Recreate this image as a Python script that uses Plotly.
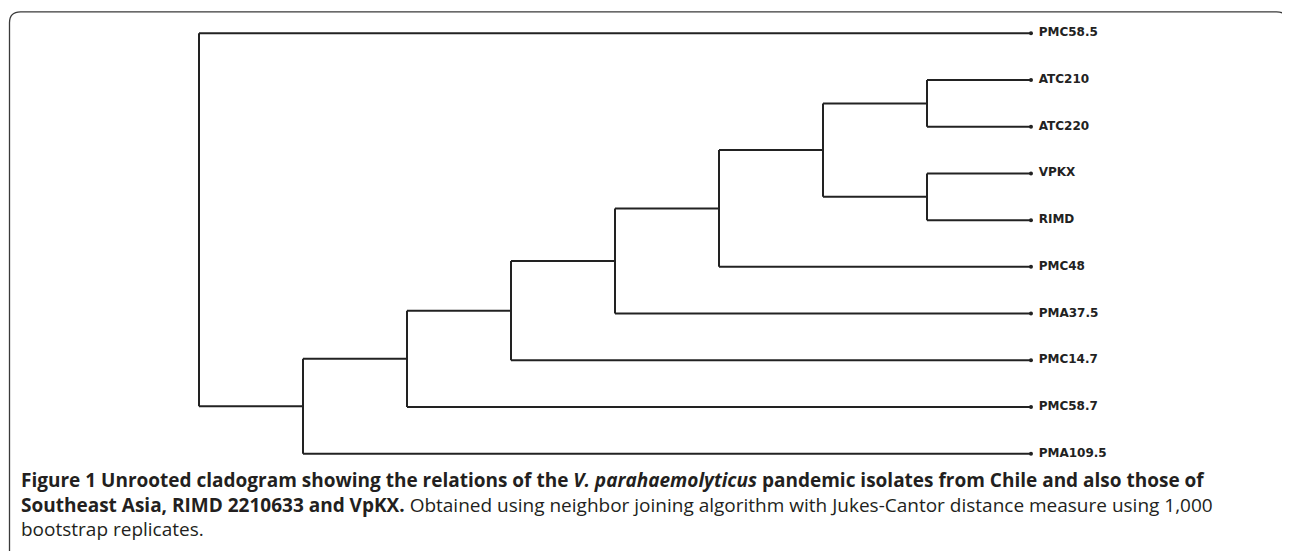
import plotly.graph_objects as go

# ---- data: tree topology ----
leaves = ["PMC58.5", "ATC210", "ATC220", "VPKX", "RIMD",
          "PMC48", "PMA37.5", "PMC14.7", "PMC58.7", "PMA109.5"]
internal_nodes = ["root", "N1", "N2", "N3", "N4", "N5", "N6", "N7a", "N7b"]
node_children = [
    ["PMC58.5", "N1"],
    ["N2", "PMA109.5"],
    ["N3", "PMC58.7"],
    ["N4", "PMC14.7"],
    ["N5", "PMA37.5"],
    ["N6", "PMC48"],
    ["N7a", "N7b"],
    ["ATC210", "ATC220"],
    ["VPKX", "RIMD"],
]

caption_lines = [
    "<b>Figure 1 Unrooted cladogram showing the relations of the "
    "<i>V. parahaemolyticus</i> pandemic isolates from Chile and also those of</b>",
    "<b>Southeast Asia, RIMD 2210633 and VpKX.</b> Obtained using neighbor joining "
    "algorithm with Jukes-Cantor distance measure using 1,000",
    "bootstrap replicates.",
]

# ---- cladogram layout ----
children = dict(zip(internal_nodes, node_children))
depth = {}
def set_depth(n, d):
    depth[n] = d
    for c in children.get(n, []):
        set_depth(c, d + 1)
set_depth("root", 0)
max_depth = max(depth[l] for l in leaves)
xpos = {n: (max_depth if n in leaves else depth[n]) for n in depth}
ypos = {l: i for i, l in enumerate(leaves)}
def set_y(n):
    if n in ypos:
        return ypos[n]
    ys = [set_y(c) for c in children[n]]
    ypos[n] = sum(ys) / len(ys)
    return ypos[n]
set_y("root")

lx, ly = [], []
for n in internal_nodes:
    cs = children[n]
    cy = [ypos[c] for c in cs]
    lx += [xpos[n], xpos[n], None]
    ly += [min(cy), max(cy), None]
    for c in cs:
        lx += [xpos[n], xpos[c], None]
        ly += [ypos[c], ypos[c], None]

LINE = "#222222"
fig = go.Figure()
fig.add_trace(go.Scatter(x=lx, y=ly, mode="lines",
                         line=dict(color=LINE, width=2),
                         hoverinfo="skip", showlegend=False, cliponaxis=False))
fig.add_trace(go.Scatter(x=[xpos[l] for l in leaves], y=[ypos[l] for l in leaves],
                         mode="markers+text", text=[" " + s for s in leaves],
                         textposition="middle right",
                         marker=dict(color=LINE, size=4),
                         textfont=dict(family="DejaVu Sans", size=12, color=LINE, weight="bold"),
                         hoverinfo="skip", showlegend=False, cliponaxis=False))

# ---- geometry (page body has an 8px margin) ----
OFF = 8
W, H = 1290, 551
x0px, x1px = 199 - OFF, 1031 - OFF
y0px, y1px = 33 - OFF, 454 - OFF
nx = max_depth
ny = len(leaves) - 1
sx = (x1px - x0px) / nx
sy = (y1px - y0px) / ny
xr = [-0.5, nx + 0.5]
yr = [ny + 0.5, -0.5]
l = x0px - 0.5 * sx
r = W - (x1px + 0.5 * sx)
t = y0px - 0.5 * sy
b = H - (y1px + 0.5 * sy)
pw = W - l - r
ph = H - t - b

def px(xp):
    return (xp - OFF - l) / pw
def py(yp):
    return 1 - (yp - OFF - t) / ph

# rounded frame (window pixel coordinates)
bl, bt, br, bb, rad = 9.5, 11.5, 1287.5, 600, 11
path = (f"M {px(bl)},{py(bb)} L {px(bl)},{py(bt+rad)} "
        f"Q {px(bl)},{py(bt)} {px(bl+rad)},{py(bt)} "
        f"L {px(br-rad)},{py(bt)} Q {px(br)},{py(bt)} {px(br)},{py(bt+rad)} "
        f"L {px(br)},{py(bb)}")
fig.add_shape(type="path", path=path, xref="paper", yref="paper",
              line=dict(color="#3a3a3a", width=1.3), layer="above")

CAP = "#231f20"
cap_font = dict(family="Open Sans", size=19, color=CAP)
fig.add_annotation(text="<br>".join(caption_lines), x=px(19), y=py(505),
                   xref="paper", yref="paper",
                   xanchor="left", yanchor="middle", showarrow=False,
                   font=cap_font, align="left")

fig.update_layout(
    width=W, height=H,
    margin=dict(l=l, r=r, t=t, b=b, pad=0),
    paper_bgcolor="white", plot_bgcolor="white",
    xaxis=dict(range=xr, visible=False, fixedrange=True),
    yaxis=dict(range=yr, visible=False, fixedrange=True),
    showlegend=False,
)
fig.write_html("out.html")
